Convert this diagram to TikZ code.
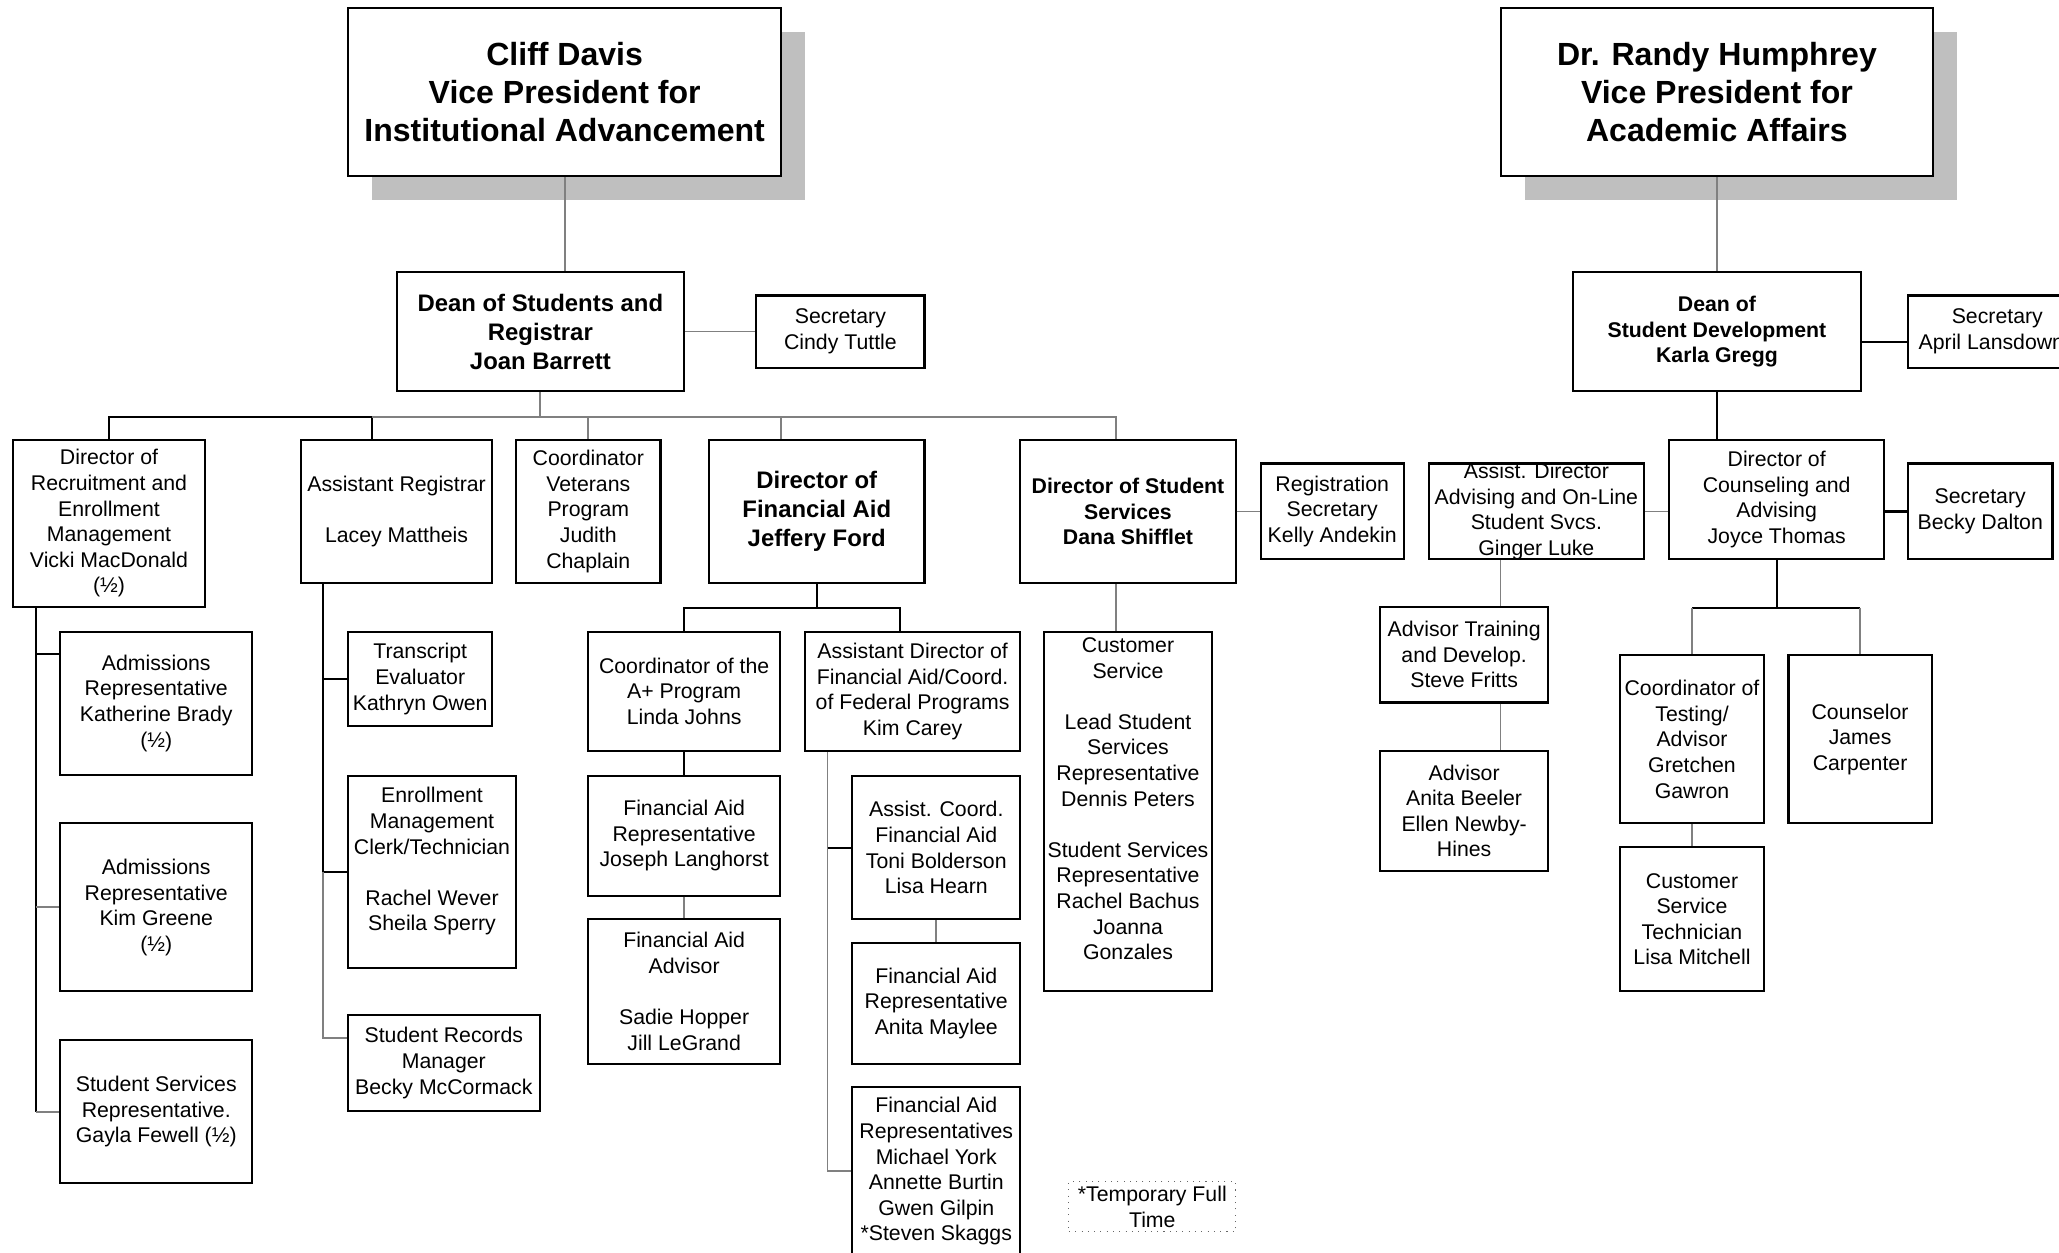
\documentclass[tikz,border=0pt]{standalone}
\usepackage{fontspec}
\setmainfont{Liberation Sans}
\usetikzlibrary{calc,shadows}
\newcommand{\nf}{\fontsize{8.1}{9.75}\selectfont}
\newcommand{\hf}{\fontsize{9.1}{11}\selectfont\bfseries}
\newcommand{\vf}{\fontsize{12.2}{14.5}\selectfont\bfseries}

\begin{document}
\begin{tikzpicture}[
  x=0.5pt, y=-0.5pt,
  box/.style={draw,line width=0.8pt,fill=white,align=center,inner sep=0pt,font=\nf},
  wh/.style 2 args={minimum width=#1*0.5pt,minimum height=#2*0.5pt},
  head/.style={box,font=\hf},
  bhead/.style={box,font=\nf\bfseries},
  vp/.style={box,font=\vf,drop shadow={shadow xshift=9pt,shadow yshift=-9pt,fill=black!25,opacity=1}},
  note/.style={draw=black!60,dotted,align=center,inner sep=0pt,font=\nf},
  bl/.style={line width=0.8pt},
  gl/.style={draw=black!50,line width=0.7pt}
  ]
  \useasboundingbox (0,0) rectangle (1568,954);
  \clip (0,0) rectangle (1568,954);

  \node[vp,wh={330}{128}] (VPadv) at (430,70) {Cliff Davis\\Vice President for\\Institutional Advancement};
  \node[vp,wh={329}{128}] (VPaca) at (1307.5,70) {Dr. Randy Humphrey\\Vice President for\\Academic Affairs};

  \node[head,wh={219}{91}] (DeanReg) at (411.5,252.5) {Dean of Students and\\Registrar\\Joan Barrett};
  \node[box,wh={128}{55}] (SecCT) at (640,252.5) {Secretary\\Cindy Tuttle};
  \node[bhead,wh={219}{91}] (DeanDev) at (1307.5,252.5) {Dean of\\Student Development\\Karla Gregg};
  \node[box,wh={136}{55}] (SecAL) at (1521,252.5) {Secretary\\April Lansdowne};

  \node[box,wh={146}{127}] (DirRec) at (83,398.5) {Director of\\Recruitment and\\Enrollment\\Management\\Vicki MacDonald\\(½)};
  \node[box,wh={146}{109}] (AsstReg) at (302,389.5) {Assistant Registrar\\[9.75pt]Lacey Mattheis};
  \node[box,wh={110}{109}] (CoordVet) at (448,389.5) {Coordinator\\Veterans\\Program\\Judith\\Chaplain};
  \node[head,wh={164}{109}] (DirFA) at (622,389.5) {Director of\\Financial Aid\\Jeffery Ford};
  \node[bhead,wh={164}{109}] (DirSS) at (859,389.5) {Director of Student\\Services\\Dana Shifflet};
  \node[box,wh={109}{73}] (RegSec) at (1014.5,389.5) {Registration\\Secretary\\Kelly Andekin};
  \node[box,wh={164}{73},inner ysep=-1.5pt] (AsstAdv) at (1170,389.5) {Assist. Director\\Advising and On-Line\\Student Svcs.\\Ginger Luke};
  \node[box,wh={164}{91}] (DirCoun) at (1353,380.5) {Director of\\Counseling and\\Advising\\Joyce Thomas};
  \node[box,wh={110}{73}] (SecBD) at (1508,389.5) {Secretary\\Becky Dalton};

  \node[box,wh={146}{109}] (AdmKB) at (119,535.5) {Admissions\\Representative\\Katherine Brady\\(½)};
  \node[box,wh={146}{128}] (AdmKG) at (119,691) {Admissions\\Representative\\Kim Greene\\(½)};
  \node[box,wh={146}{109}] (SSRep) at (119,846.5) {Student Services\\Representative.\\Gayla Fewell (½)};
  \node[box,wh={110}{72}] (Transcript) at (320,517) {Transcript\\Evaluator\\Kathryn Owen};
  \node[box,wh={128}{146}] (EnrClerk) at (329,664) {Enrollment\\Management\\Clerk/Technician\\[9.75pt]Rachel Wever\\Sheila Sperry\\~};
  \node[box,wh={146}{73}] (StudRec) at (338,809.5) {Student Records\\Manager\\Becky McCormack};

  \node[box,wh={146}{91}] (CoordAP) at (521,526.5) {Coordinator of the\\A+ Program\\Linda Johns};
  \node[box,wh={146}{91}] (FARepJL) at (521,636.5) {Financial Aid\\Representative\\Joseph Langhorst};
  \node[box,wh={146}{110}] (FAAdv) at (521,755) {Financial Aid\\Advisor\\[9.75pt]Sadie Hopper\\Jill LeGrand};
  \node[box,wh={164}{91}] (AsstDirFA) at (695,526.5) {Assistant Director of\\Financial Aid/Coord.\\of Federal Programs\\Kim Carey};
  \node[box,wh={128}{109}] (AsstCoord) at (713,645.5) {Assist. Coord.\\Financial Aid\\Toni Bolderson\\Lisa Hearn};
  \node[box,wh={128}{92}] (FARepAM) at (713,764) {Financial Aid\\Representative\\Anita Maylee};
  \node[box,wh={128}{128}] (FAReps) at (713,892) {Financial Aid\\Representatives\\Michael York\\Annette Burtin\\Gwen Gilpin\\*Steven Skaggs};
  \node[box,wh={128}{274}] (CustServ) at (859,618) {Customer\\Service\\[9.75pt]Lead Student\\Services\\Representative\\Dennis Peters\\[9.75pt]Student Services\\Representative\\Rachel Bachus\\Joanna\\Gonzales\\~};
  \node[note,wh={127}{38}] (TempNote) at (877.5,919) {*Temporary Full\\Time};

  \node[box,wh={128}{73}] (AdvTrain) at (1115,498.5) {Advisor Training\\and Develop.\\Steve Fritts};
  \node[box,wh={128}{91}] (Advisor) at (1115,617.5) {Advisor\\Anita Beeler\\Ellen Newby-\\Hines};
  \node[box,wh={109}{128}] (CoordTest) at (1288.5,563) {Coordinator of\\Testing/\\Advisor\\Gretchen\\Gawron};
  \node[box,wh={109}{128}] (Counsel) at (1416.5,563) {Counselor\\James\\Carpenter};
  \node[box,wh={109}{110}] (CSTech) at (1288.5,700) {Customer\\Service\\Technician\\Lisa Mitchell};

  \coordinate (busA) at ($(DeanReg.south)+(0,19)$);
  \coordinate (arIn) at ($(AsstReg.north west)!.375!(AsstReg.north east)$);
  \coordinate (faIn) at ($(DirFA.north west)!.334!(DirFA.north east)$);
  \coordinate (ssIn) at ($(DirSS.north west)!.443!(DirSS.north east)$);
  \coordinate (ssOut) at ($(DirSS.south west)!.443!(DirSS.south east)$);
  \coordinate (drSpine) at ($(DirRec.south west)+(18,0)$);
  \coordinate (kbIn) at ($(AdmKB.north west)+(0,18)$);
  \coordinate (arSpine) at ($(AsstReg.south west)+(18,0)$);
  \coordinate (srIn) at ($(StudRec.north west)+(0,18)$);
  \coordinate (busB) at ($(DirFA.south)+(0,18)$);
  \coordinate (adIn) at ($(AsstDirFA.north west)!.443!(AsstDirFA.north east)$);
  \coordinate (adSpine) at ($(AsstDirFA.south west)+(18,0)$);
  \coordinate (ddOut) at ($(DeanDev.north east)+(0,54.5)$);
  \coordinate (aaOut) at ($(AsstAdv.south west)!.335!(AsstAdv.south east)$);
  \coordinate (busC) at ($(DirCoun.south)+(0,36)$);

  \draw[gl] (VPadv.south) -- (VPadv.south |- DeanReg.north);
  \draw[gl] (DeanReg.east) -- (SecCT.west);
  \draw[gl] (DeanReg.south) -- (busA);
  \draw[bl] (DirRec.north) |- (arIn |- busA) -- (arIn);
  \draw[gl] (arIn |- busA) -| (ssIn);
  \draw[gl] (CoordVet.north) -- (CoordVet.north |- busA);
  \draw[gl] (faIn) -- (faIn |- busA);

  \draw[bl] (drSpine) -- (drSpine |- SSRep.west);
  \draw[bl] (drSpine |- kbIn) -- (kbIn);
  \draw[gl] (drSpine |- AdmKG.west) -- (AdmKG.west);
  \draw[gl] (drSpine |- SSRep.west) -- (SSRep.west);

  \draw[bl] (arSpine) -- (arSpine |- EnrClerk.west) -- (EnrClerk.west);
  \draw[bl] (arSpine |- Transcript.west) -- (Transcript.west);
  \draw[gl] (arSpine |- EnrClerk.west) |- (srIn);

  \draw[bl] (DirFA.south) -- (busB);
  \draw[bl] (CoordAP.north) |- (busB) -| (adIn);
  \draw[bl] (CoordAP.south) -- (FARepJL.north);
  \draw[gl] (FARepJL.south) -- (FAAdv.north);
  \draw[gl] (adSpine) |- (FAReps.west);
  \draw[bl] (adSpine |- AsstCoord.west) -- (AsstCoord.west);
  \draw[gl] (AsstCoord.south) -- (FARepAM.north);

  \draw[gl] (ssOut) -- (ssOut |- CustServ.north);
  \draw[gl] (DirSS.east) -- (RegSec.west);

  \draw[gl] (VPaca.south) -- (DeanDev.north);
  \draw[bl] (ddOut) -- (ddOut -| SecAL.west);
  \draw[bl] (DeanDev.south) -- (DeanDev.south |- DirCoun.north);
  \draw[gl] (AsstAdv.east) -- (AsstAdv.east -| DirCoun.west);
  \draw[bl] (AsstAdv.east -| DirCoun.east) -- (SecBD.west);
  \draw[gl] (aaOut) -- (aaOut |- AdvTrain.north);
  \draw[gl] (aaOut |- AdvTrain.south) -- (aaOut |- Advisor.north);
  \draw[bl] (DirCoun.south) -- (busC);
  \draw[bl] (CoordTest.north |- busC) -- (Counsel.north |- busC);
  \draw[gl] (CoordTest.north |- busC) -- (CoordTest.north);
  \draw[gl] (Counsel.north |- busC) -- (Counsel.north);
  \draw[gl] (CoordTest.south) -- (CSTech.north);
\end{tikzpicture}
\end{document}
